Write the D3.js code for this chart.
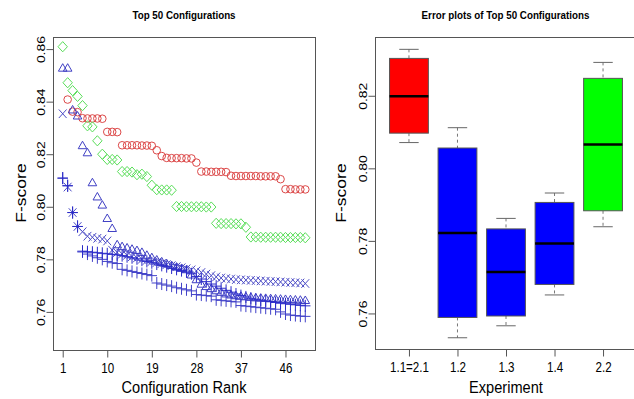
<!DOCTYPE html>
<html>
<head>
<meta charset="utf-8">
<script src="https://cdn.jsdelivr.net/npm/d3@7"></script>
<style>
  body { margin: 0; background: #fff; }
  svg text { font-family: "Liberation Sans", Arial, sans-serif; fill: #000; }
</style>
</head>
<body>
<script>
// ---- left panel: F-score of the top 50 configurations, by rank ----
let ranks = d3.range(1, 51);
let rankTicks = [1, 10, 19, 28, 37, 46];
let scoreTicksLeft = [0.76, 0.78, 0.80, 0.82, 0.84, 0.86];

// red circles (nothing visible at rank 1)
let circleScores = [null, 0.8408, 0.8362, 0.8360, 0.8337, 0.8336, 0.8336, 0.8336, 0.8335, 0.8285,
  0.8285, 0.8284, 0.8234, 0.8234, 0.8234, 0.8234, 0.8233, 0.8233, 0.8232, 0.8215,
  0.8193, 0.8186, 0.8185, 0.8185, 0.8185, 0.8184, 0.8184, 0.8168, 0.8134, 0.8134,
  0.8133, 0.8133, 0.8133, 0.8132, 0.8118, 0.8117, 0.8117, 0.8117, 0.8117, 0.8117,
  0.8116, 0.8116, 0.8116, 0.8116, 0.8105, 0.8067, 0.8067, 0.8066, 0.8066, 0.8066];

// green diamonds
let diamondScores = [0.8609, 0.8472, 0.8442, 0.8420, 0.8385, 0.8308, 0.8304, 0.8251, 0.8200, 0.8180,
  0.8180, 0.8178, 0.8134, 0.8134, 0.8132, 0.8122, 0.8124, 0.8115, 0.8082, 0.8065,
  0.8064, 0.8064, 0.8063, 0.8001, 0.8001, 0.8000, 0.8000, 0.8000, 0.8000, 0.7999,
  0.7999, 0.7937, 0.7936, 0.7936, 0.7936, 0.7935, 0.7935, 0.7922, 0.7885, 0.7885,
  0.7884, 0.7884, 0.7884, 0.7884, 0.7884, 0.7883, 0.7883, 0.7883, 0.7883, 0.7882];

// blue triangles
let triangleScores = [0.8527, 0.8527, 0.8368, 0.8345, 0.8232, 0.8205, 0.8091, 0.8037, 0.8006, 0.7955,
  0.7917, 0.7855, 0.7848, 0.7843, 0.7838, 0.7833, 0.7826, 0.7815, 0.7806, 0.7797,
  0.7790, 0.7783, 0.7776, 0.7770, 0.7765, 0.7760, 0.7740, 0.7722, 0.7705, 0.7696,
  0.7688, 0.7680, 0.7674, 0.7668, 0.7664, 0.7661, 0.7659, 0.7657, 0.7655, 0.7653,
  0.7652, 0.7651, 0.7650, 0.7649, 0.7648, 0.7647, 0.7646, 0.7645, 0.7644, 0.7643];

// blue crosses
let crossScores = [0.8354, 0.8075, 0.7978, 0.7925, 0.7905, 0.7888, 0.7884, 0.7880, 0.7877, 0.7870,
  0.7835, 0.7826, 0.7820, 0.7815, 0.7810, 0.7805, 0.7800, 0.7796, 0.7792, 0.7788,
  0.7784, 0.7780, 0.7776, 0.7772, 0.7768, 0.7764, 0.7760, 0.7756, 0.7750, 0.7744,
  0.7738, 0.7733, 0.7729, 0.7727, 0.7725, 0.7723, 0.7722, 0.7721, 0.7720, 0.7719,
  0.7718, 0.7717, 0.7716, 0.7715, 0.7714, 0.7713, 0.7712, 0.7711, 0.7710, 0.7708];

// blue plus signs, upper row (their arms merge into a dark line)
let plusUpperScores = [0.8109, 0.8080, 0.7978, 0.7925, 0.7831, 0.7829, 0.7827, 0.7825, 0.7823, 0.7821,
  0.7819, 0.7817, 0.7814, 0.7810, 0.7806, 0.7802, 0.7797, 0.7792, 0.7787, 0.7782,
  0.7777, 0.7772, 0.7767, 0.7762, 0.7757, 0.7752, 0.7745, 0.7735, 0.7725, 0.7715,
  0.7706, 0.7698, 0.7690, 0.7682, 0.7675, 0.7668, 0.7662, 0.7657, 0.7652, 0.7648,
  0.7645, 0.7642, 0.7639, 0.7636, 0.7633, 0.7631, 0.7629, 0.7627, 0.7625, 0.7623];

// blue plus signs, lower row
let plusLowerScores = [0.8109, 0.8080, 0.7978, 0.7925, 0.7828, 0.7820, 0.7813, 0.7806, 0.7800, 0.7792,
  0.7787, 0.7784, 0.7762, 0.7758, 0.7754, 0.7750, 0.7746, 0.7742, 0.7738, 0.7710,
  0.7706, 0.7702, 0.7698, 0.7692, 0.7688, 0.7684, 0.7680, 0.7666, 0.7664, 0.7662,
  0.7660, 0.7646, 0.7644, 0.7642, 0.7640, 0.7638, 0.7624, 0.7622, 0.7620, 0.7618,
  0.7616, 0.7614, 0.7612, 0.7610, 0.7600, 0.7592, 0.7588, 0.7586, 0.7584, 0.7583];

// ---- right panel: box plots per experiment ----
let experiments = ["1.1=2.1", "1.2", "1.3", "1.4", "2.2"];
let whiskerLow = [0.8071, 0.7533, 0.7566, 0.7651, 0.7839];
let quartile1 = [0.8097, 0.7589, 0.7593, 0.7680, 0.7883];
let medians = [0.8199, 0.7822, 0.7714, 0.7793, 0.8066];
let quartile3 = [0.8303, 0.8056, 0.7833, 0.7906, 0.8248];
let whiskerHigh = [0.8328, 0.8112, 0.7862, 0.7932, 0.8292];
let boxColors = ["#ff0000", "#0000ff", "#0000ff", "#0000ff", "#00ff00"];
let scoreTicksRight = [0.76, 0.78, 0.80, 0.82];

let width = 634, height = 399;
let fontTick = 11.6, fontLab = 14.6, stretch = 1.2;
let frameColor = "#555";

let svg = d3.select("body").append("svg")
  .attr("width", width)
  .attr("height", height);

let left = { x0: 53, x1: 315, y0: 37, y1: 350 };
let right = { x0: 375, x1: 637, y0: 37, y1: 349 };

let x = d3.scaleLinear().domain([-0.96, 51.96]).range([left.x0, left.x1]);
let y = d3.scaleLinear().domain([0.7455, 0.8646]).range([left.y1, left.y0]);

let xb = d3.scaleLinear().domain([0.3, 5.7]).range([right.x0, right.x1]);
let yb = d3.scaleLinear().domain([0.7502, 0.8362]).range([right.y1, right.y0]);

// stretched text helper (the original picture is a bit taller than wide)
function label(g, tx, ty, txt, size, opts) {
  opts = opts || {};
  let t = g.append("text")
    .attr("transform", "translate(" + tx + "," + ty + ") scale(1," + (opts.sy || stretch) + ")" + (opts.rot ? " rotate(-90)" : ""))
    .attr("text-anchor", "middle")
    .style("font-size", size + "px")
    .text(txt);
  if (opts.bold) t.style("font-weight", "bold");
  return t;
}

function styleAxis(g) {
  g.select(".domain").remove();
  g.selectAll(".tick line").attr("stroke", frameColor);
  g.attr("font-family", null).attr("font-size", null);
}

function yAxis(scale, x0, ticks) {
  let g = svg.append("g")
    .attr("transform", "translate(" + x0 + ",0)")
    .call(d3.axisLeft(scale).tickValues(ticks).tickSize(7).tickFormat(d3.format(".2f")));
  styleAxis(g);
  g.selectAll(".tick text")
    .attr("x", null).attr("dy", null)
    .attr("text-anchor", "middle")
    .attr("transform", "translate(-9,0) scale(1," + stretch + ") rotate(-90)")
    .style("font-size", fontTick + "px");
}

function xAxis(scale, y0, ticks, fmt) {
  let g = svg.append("g")
    .attr("transform", "translate(0," + y0 + ")")
    .call(d3.axisBottom(scale).tickValues(ticks).tickSize(7).tickFormat(fmt));
  styleAxis(g);
  g.selectAll(".tick text")
    .attr("y", null).attr("dy", null)
    .attr("transform", "translate(0,22.7) scale(1," + stretch + ")")
    .style("font-size", fontTick + "px");
}

// ---- left panel ----
svg.append("rect")
  .attr("x", left.x0 + 0.5).attr("y", left.y0 + 0.5)
  .attr("width", left.x1 - left.x0).attr("height", left.y1 - left.y0)
  .attr("fill", "none").attr("stroke", frameColor);

yAxis(y, left.x0 + 0.5, scoreTicksLeft);
xAxis(x, left.y1 + 0.5, rankTicks, d3.format("d"));

let shapes = {
  triangle: "M0,-4.6L4.3,2.9L-4.3,2.9Z",
  diamond: "M0,-5.1L4.7,0L0,5.1L-4.7,0Z",
  plus: "M-5.2,0H5.2M0,-6V6",
  cross: "M-3.9,-4.3L3.9,4.3M-3.9,4.3L3.9,-4.3"
};

let series = [
  { values: circleScores, shape: "circle", color: "#dc4848" },
  { values: diamondScores, shape: "diamond", color: "#5ade5a" },
  { values: triangleScores, shape: "triangle", color: "#4040c4" },
  { values: crossScores, shape: "cross", color: "#4c4cc6" },
  { values: plusLowerScores, shape: "plus", color: "#4040c8" },
  { values: plusUpperScores, shape: "plus", color: "#2a2ac8" }
];

let plotArea = svg.append("g");
series.forEach(function (s) {
  let pts = ranks.map(function (r, i) { return { rank: r, score: s.values[i] }; })
    .filter(function (d) { return d.score != null; });
  let g = plotArea.append("g")
    .attr("fill", "none")
    .attr("stroke", s.color)
    .attr("stroke-width", 1);
  if (s.shape === "circle") {
    g.selectAll("circle").data(pts).enter().append("circle")
      .attr("cx", function (d) { return x(d.rank); })
      .attr("cy", function (d) { return y(d.score); })
      .attr("r", 3.8);
  } else {
    g.selectAll("path").data(pts).enter().append("path")
      .attr("transform", function (d) { return "translate(" + x(d.rank) + "," + y(d.score) + ")"; })
      .attr("d", shapes[s.shape]);
  }
});

label(svg, 184, 19, "Top 50 Configurations", 9.8, { bold: true });
label(svg, 184, 393, "Configuration Rank", fontLab, { sy: 1.12 });
label(svg, 25.5, 193, "F-score", fontLab, { rot: true });

// ---- right panel ----
svg.append("rect")
  .attr("x", right.x0 + 0.5).attr("y", right.y0 + 0.5)
  .attr("width", right.x1 - right.x0).attr("height", right.y1 - right.y0)
  .attr("fill", "none").attr("stroke", frameColor);

yAxis(yb, right.x0 + 0.5, scoreTicksRight);
xAxis(xb, right.y1 + 0.5, [1, 2, 3, 4, 5], function (i) { return experiments[i - 1]; });

let boxW = 0.8;
let boxes = svg.append("g").selectAll("g")
  .data(experiments.map(function (e, i) {
    return { pos: i + 1, lo: whiskerLow[i], q1: quartile1[i], med: medians[i], q3: quartile3[i], hi: whiskerHigh[i], fill: boxColors[i] };
  }))
  .enter().append("g");

// dashed whiskers
boxes.append("line")
  .attr("x1", function (d) { return xb(d.pos); }).attr("x2", function (d) { return xb(d.pos); })
  .attr("y1", function (d) { return yb(d.hi); }).attr("y2", function (d) { return yb(d.q3); })
  .attr("stroke", "#777").attr("stroke-dasharray", "3,3");
boxes.append("line")
  .attr("x1", function (d) { return xb(d.pos); }).attr("x2", function (d) { return xb(d.pos); })
  .attr("y1", function (d) { return yb(d.q1); }).attr("y2", function (d) { return yb(d.lo); })
  .attr("stroke", "#777").attr("stroke-dasharray", "3,3");
// caps
["lo", "hi"].forEach(function (k) {
  boxes.append("line")
    .attr("x1", function (d) { return xb(d.pos - boxW / 4); }).attr("x2", function (d) { return xb(d.pos + boxW / 4); })
    .attr("y1", function (d) { return yb(d[k]); }).attr("y2", function (d) { return yb(d[k]); })
    .attr("stroke", "#666");
});
boxes.append("rect")
  .attr("x", function (d) { return xb(d.pos - boxW / 2); })
  .attr("width", xb(boxW) - xb(0))
  .attr("y", function (d) { return yb(d.q3); })
  .attr("height", function (d) { return yb(d.q1) - yb(d.q3); })
  .attr("fill", function (d) { return d.fill; })
  .attr("stroke", "#555");
boxes.append("line")
  .attr("x1", function (d) { return xb(d.pos - boxW / 2); }).attr("x2", function (d) { return xb(d.pos + boxW / 2); })
  .attr("y1", function (d) { return yb(d.med); }).attr("y2", function (d) { return yb(d.med); })
  .attr("stroke", "#000").attr("stroke-width", 2.5);

label(svg, 505.5, 19, "Error plots of Top 50 Configurations", 9.8, { bold: true });
label(svg, 506, 393, "Experiment", fontLab, { sy: 1.12 });
label(svg, 345.5, 193, "F-score", fontLab, { rot: true });
</script>
</body>
</html>
